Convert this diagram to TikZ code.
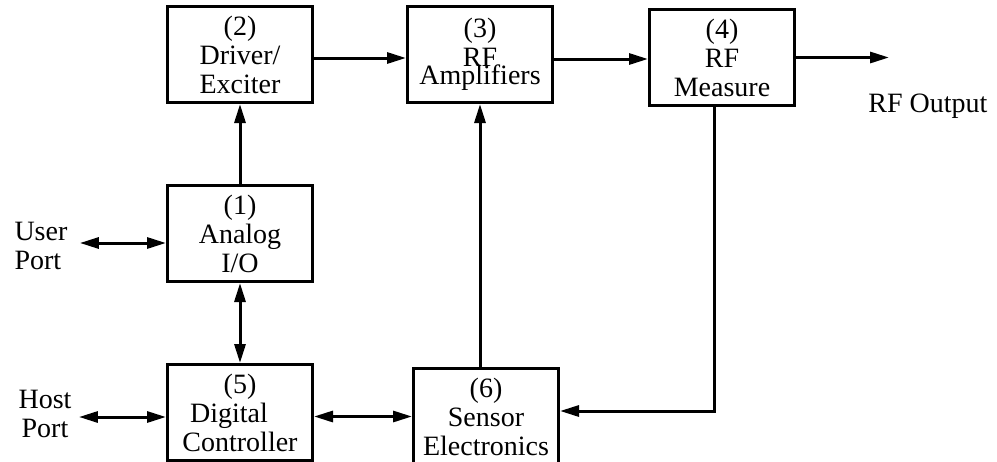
\documentclass[tikz,border=0pt]{standalone}
\usepackage{fontspec}
\setmainfont{Liberation Serif}
\usetikzlibrary{positioning,arrows.meta}
\tikzset{block node/.style={draw, line width=3pt, minimum width=145pt, minimum height=96pt, inner sep=0pt, align=center},
port node/.style={inner sep=0pt},}

\begin{document}
\begin{tikzpicture}[x=1pt, y=1pt, line width=3pt, >={Triangle[length=19pt,width=11pt]}, font=\fontsize{28}{29}\selectfont]
        \useasboundingbox (0,0) rectangle (997,-461);
        % Nodes
        \node[block node] (analog) at (240,-233.5) {(1)\\Analog\\I/O};
        \node[block node] [above=80pt of analog] (driver) {(2)\\Driver/\\Exciter};
        \node[block node] [right=92pt of driver] (rfamp) {(3)\\RF\\[-11pt]Amplifiers};
        \node[block node] [right=94pt of rfamp, yshift=-3pt] (rfmeas) {(4)\\RF\\Measure};
        \node[block node] [below=80pt of analog] (digital) {(5)\\Digital\rule{22pt}{0pt}\\Controller};
        \node[block node] [right=98pt of digital, yshift=-4pt] (sensor) {(6)\\Sensor\\Electronics};
        \node[port node, align=left, anchor=west] (user) at (13,-246) {User\\Port};
        \node[port node, align=center] (host) at (45,-413.5) {Host\\Port};
        \node[port node, anchor=base] (rfout) at (928,-112) {RF Output};
        \coordinate [right=93pt of rfmeas] (rfend);
        % Paths
        \draw[->] (analog.north) -- (driver.south);
        \draw[<->] (analog.south) -- (digital.north);
        \draw[->] ([yshift=-3.5pt]driver.east) -- ([yshift=-3.5pt]driver.east -| rfamp.west);
        \draw[->] ([yshift=-4.5pt]rfamp.east) -- ([yshift=-4.5pt]rfamp.east -| rfmeas.west);
        \draw[->] (rfmeas.east) -- (rfend);
        \draw[->] (sensor.north -| rfamp.south) -- (rfamp.south);
        \draw[->] ([xshift=-8pt]rfmeas.south) |- ([yshift=5.5pt]sensor.east);
        \draw[<->] (digital.east |- sensor.west) -- (sensor.west);
        \draw[<->] ([xshift=11pt,yshift=3pt]user.east) -- ([yshift=3pt]user.east -| analog.west);
        \draw[<->] ([xshift=6pt,yshift=-3.5pt]host.east) -- ([yshift=-3.5pt]host.east -| digital.west);
    \end{tikzpicture}
\end{document}
